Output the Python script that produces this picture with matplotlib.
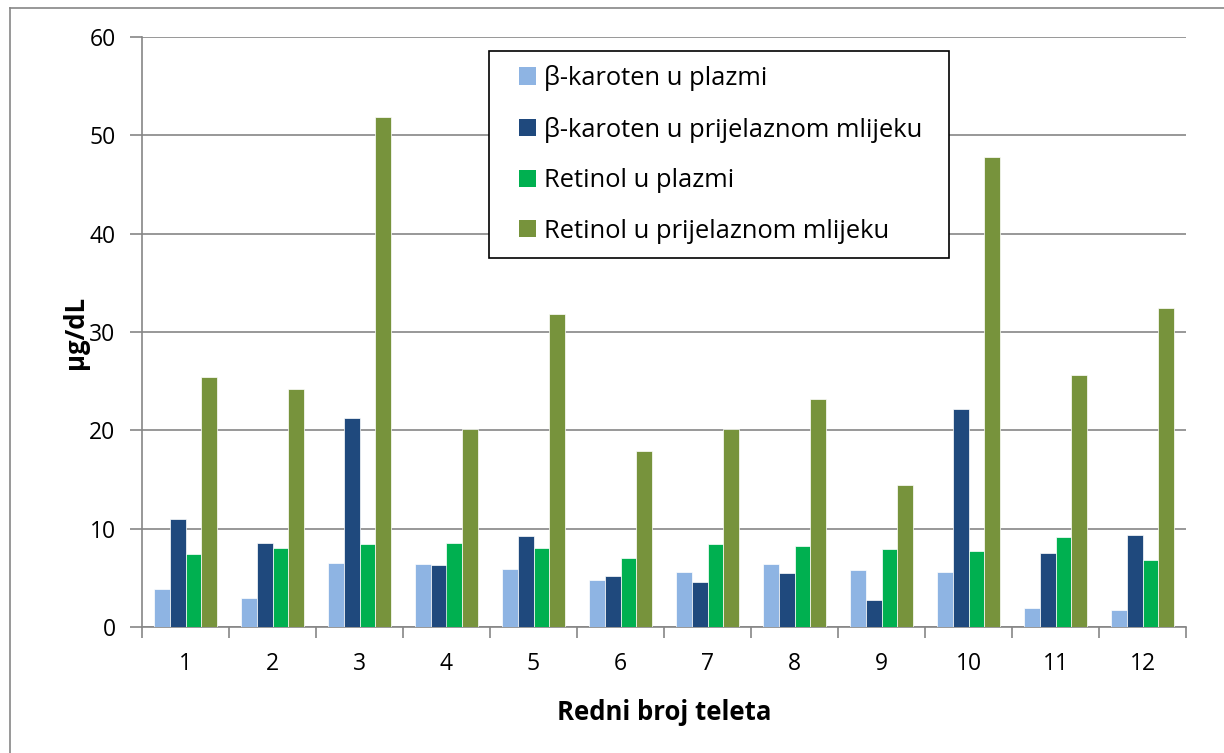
import numpy as np
import matplotlib
matplotlib.use('Agg')
import matplotlib.pyplot as plt
from matplotlib.lines import Line2D
from matplotlib.patches import Rectangle

# data
calves = ['1', '2', '3', '4', '5', '6', '7', '8', '9', '10', '11', '12']
beta_plasma = [3.9, 3.0, 6.5, 6.4, 5.9, 4.8, 5.6, 6.4, 5.8, 5.6, 2.0, 1.8]
beta_milk = [11.0, 8.6, 21.3, 6.3, 9.3, 5.2, 4.6, 5.5, 2.8, 22.2, 7.5, 9.4]
retinol_plasma = [7.4, 8.1, 8.5, 8.6, 8.1, 7.0, 8.5, 8.3, 8.0, 7.8, 9.2, 6.8]
retinol_milk = [25.4, 24.2, 51.8, 20.1, 31.8, 17.9, 20.1, 23.2, 14.5, 47.8, 25.6, 32.4]

series = [beta_plasma, beta_milk, retinol_plasma, retinol_milk]
labels = ['β-karoten u plazmi', 'β-karoten u prijelaznom mlijeku',
          'Retinol u plazmi', 'Retinol u prijelaznom mlijeku']
colors = ['#8EB4E3', '#1F497D', '#00B050', '#77933C']

plt.rcParams['font.family'] = ['Open Sans', 'DejaVu Sans']

W, H = 1224, 753
fig = plt.figure(figsize=(W / 100, H / 100), dpi=100)

# chart area border (only top and left visible)
grey = '#868686'
fig.add_artist(Line2D([9.5 / W, 9.5 / W], [0, 1 - 7.5 / H], color=grey, lw=1.2))
fig.add_artist(Line2D([9.5 / W, 1], [1 - 7.5 / H, 1 - 7.5 / H], color=grey, lw=1.2))

left, right, top, bottom = 142, 1186, 36.7, 627.3
ax = fig.add_axes([left / W, (H - bottom) / H, (right - left) / W, (bottom - top) / H])

x = np.arange(1, len(calves) + 1)
bw = 0.181
for i, (vals, lab, col) in enumerate(zip(series, labels, colors)):
    ax.bar(x + (i - 1.5) * bw, vals, width=bw, color=col, label=lab,
           edgecolor='white', linewidth=0.5, zorder=3)

ax.set_xlim(0.5, 12.5)
ax.set_ylim(0, 60)
ax.set_yticks(range(0, 61, 10))
ax.yaxis.grid(True, color=grey, lw=1.2, zorder=0)
ax.set_axisbelow(True)

ax.set_xticks(np.arange(0.5, 12.6, 1))
ax.set_xticklabels([])
ax.set_xticks(x, minor=True)
ax.set_xticklabels(calves, minor=True)
ax.tick_params(axis='x', which='major', length=8, width=1.2, color=grey, direction='out')
ax.tick_params(axis='x', which='minor', length=0, pad=18, labelsize=16.5)
ax.tick_params(axis='y', length=9, width=1.2, color=grey, pad=10, labelsize=16.5)

for s in ['top', 'right']:
    ax.spines[s].set_visible(False)
for s in ['left', 'bottom']:
    ax.spines[s].set_color(grey)
    ax.spines[s].set_linewidth(1.2)

ax.set_xlabel('Redni broj teleta', fontsize=18.5, fontweight='bold', labelpad=16)
ax.set_ylabel('µg/dL', fontsize=18.5, fontweight='bold', labelpad=0)

# legend frame drawn separately so its size matches the reference box
ax.add_artist(Rectangle((489 / W, 1 - 258 / H), (949 - 489) / W, (258 - 51) / H,
                        transform=fig.transFigure, facecolor='white',
                        edgecolor='black', lw=1.2, zorder=5, clip_on=False))
leg = ax.legend(loc='upper left', bbox_to_anchor=(519 / W, 1 - 65 / H),
                bbox_transform=fig.transFigure, fontsize=18.4, frameon=False,
                handlelength=0.66, handleheight=0.66, handletextpad=0.3,
                labelspacing=1.0, borderpad=0, borderaxespad=0)
leg.set_zorder(6)
for h in leg.legend_handles:
    h.set_edgecolor('none')

fig.savefig('out.png', dpi=100)
